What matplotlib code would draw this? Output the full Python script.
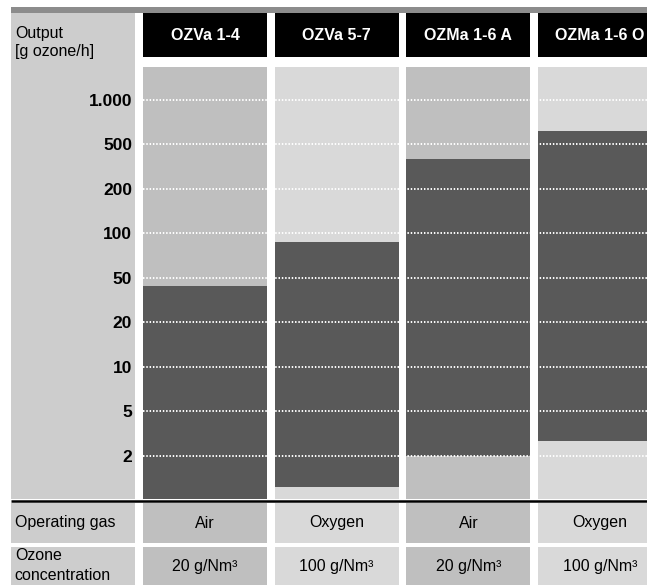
import numpy as np
import matplotlib.pyplot as plt
from matplotlib.patches import Rectangle


############################################################
# Data
############################################################

models = ["OZVa 1-4", "OZVa 5-7", "OZMa 1-6 A", "OZMa 1-6 O"]

output_min = [1, 1.23, 2, 2.7]
output_max = [42, 87, 367, 612]

operating_gas = ["Air", "Oxygen", "Air", "Oxygen"]
ozone_conc = ["20 g/Nm³", "100 g/Nm³", "20 g/Nm³", "100 g/Nm³"]

tick_values = [1000, 500, 200, 100, 50, 20, 10, 5, 2]
tick_labels = ["1.000", "500", "200", "100", "50", "20", "10", "5", "2"]


############################################################
# Style
############################################################

DARK = "#595959"
LABEL_BG = "#cdcdcd"
COL_BG = ["#bfbfbf", "#d9d9d9", "#bfbfbf", "#d9d9d9"]
TOP_BAR = "#8c8c8c"

plt.rcParams["font.family"] = ["Liberation Sans", "DejaVu Sans"]

W = 0.9415                  # column width (column units)
X_LEFT = -1.5566
X_RIGHT = 3.356
LEFT_EDGE = -1 - W / 2

FIG_H = 585.0
CHART_TOP = 66.5            # pixels from top
CHART_BOTTOM = 498.5
GRID_TOP_PX = 99.5
STEP_PX = 44.53


############################################################
# Evenly spaced 1-2-5 scale
############################################################

scale_values = [2000] + tick_values + [1]
scale_pos = -np.arange(-1, len(scale_values) - 1)      # 1, 0, -1, ... -9
log_asc = np.log10(scale_values[::-1])
pos_asc = scale_pos[::-1].astype(float)


def forward(v):
    v = np.clip(np.asarray(v, dtype=float), 1e-9, None)
    return np.interp(np.log10(v), log_asc, pos_asc)


def inverse(p):
    return 10 ** np.interp(p, pos_asc, log_asc)


def main():

    fig = plt.figure(figsize=(6.47, 5.85), dpi=100)

    ############################################################
    # Header
    ############################################################

    ax_head = fig.add_axes([0, 1 - CHART_TOP / FIG_H, 1, CHART_TOP / FIG_H])
    ax_head.set_xlim(X_LEFT, X_RIGHT)
    ax_head.set_ylim(CHART_TOP, 0)
    ax_head.axis("off")

    ax_head.add_patch(Rectangle((LEFT_EDGE, 7), X_RIGHT - LEFT_EDGE, 5.5,
                                color=TOP_BAR, lw=0))
    ax_head.add_patch(Rectangle((LEFT_EDGE, 12.5), W, CHART_TOP - 12.5,
                                color=LABEL_BG, lw=0))

    for i, name in enumerate(models):
        ax_head.add_patch(Rectangle((i - W / 2, 12.5), W, 44.3,
                                    color="black", lw=0))
        ax_head.text(i, 35, name, color="white", fontsize=11.5,
                     fontweight="bold", ha="center", va="center")

    ax_head.text(LEFT_EDGE + 0.027, 26, "Output\n[g ozone/h]",
                 fontsize=11.5, ha="left", va="top", linespacing=1.25)

    ############################################################
    # Chart
    ############################################################

    ax = fig.add_axes([0, 1 - CHART_BOTTOM / FIG_H, 1,
                       (CHART_BOTTOM - CHART_TOP) / FIG_H])
    ax.set_yscale("function", functions=(forward, inverse))

    p_top = -(CHART_TOP - GRID_TOP_PX) / STEP_PX
    p_bottom = -(CHART_BOTTOM - GRID_TOP_PX) / STEP_PX
    ax.set_ylim(inverse(p_bottom), inverse(p_top))
    ax.set_xlim(X_LEFT, X_RIGHT)

    ax.axvspan(-1 - W / 2, -1 + W / 2, color=LABEL_BG, lw=0)

    x = np.arange(len(models))

    for i in x:
        ax.axvspan(i - W / 2, i + W / 2, color=COL_BG[i], lw=0)

    ax.bar(
        x,
        np.array(output_max) - np.array(output_min),
        bottom=output_min,
        width=W,
        color=DARK,
        lw=0,
    )

    ax.hlines(
        tick_values,
        -W / 2,
        X_RIGHT,
        colors="white",
        linestyles=(0, (0.75, 0.95)),
        lw=1.4,
    )

    ax.set_yticks(tick_values)
    ax.set_yticklabels(tick_labels, fontsize=12.5, fontweight="bold")
    ax.yaxis.set_minor_locator(plt.NullLocator())
    ax.tick_params(axis="y", length=0, pad=-95)
    ax.set_xticks([])

    for spine in ax.spines.values():
        spine.set_visible(False)

    ############################################################
    # Table
    ############################################################

    table_h = FIG_H - CHART_BOTTOM
    ax_tab = fig.add_axes([0, 0, 1, table_h / FIG_H])
    ax_tab.set_xlim(X_LEFT, X_RIGHT)
    ax_tab.set_ylim(FIG_H, CHART_BOTTOM)
    ax_tab.axis("off")

    ax_tab.plot([LEFT_EDGE, X_RIGHT], [501, 501], color="black", lw=1.8,
                solid_capstyle="butt")

    rows = [
        ("Operating gas", operating_gas, 503, 543),
        ("Ozone\nconcentration", ozone_conc, 547, 592),
    ]

    for label, values, y0, y1 in rows:

        ax_tab.add_patch(Rectangle((LEFT_EDGE, y0), W, y1 - y0,
                                   color=LABEL_BG, lw=0))

        for i, val in enumerate(values):
            ax_tab.add_patch(Rectangle((i - W / 2, y0), W, y1 - y0,
                                       color=COL_BG[i], lw=0))

    ax_tab.text(LEFT_EDGE + 0.027, 523, "Operating gas", fontsize=11.5,
                ha="left", va="center")
    ax_tab.text(LEFT_EDGE + 0.027, 548, "Ozone\nconcentration", fontsize=11.5,
                ha="left", va="top", linespacing=1.45)

    for i in range(len(models)):
        ax_tab.text(i, 523, operating_gas[i], fontsize=11.5,
                    ha="center", va="center")
        ax_tab.text(i, 566, ozone_conc[i], fontsize=11.5,
                    ha="center", va="center")

    fig.savefig("out.png", dpi=100)
    plt.close(fig)


if __name__ == "__main__":
    main()
